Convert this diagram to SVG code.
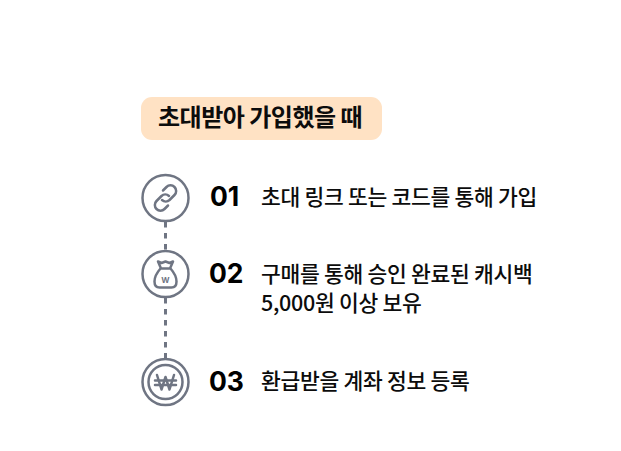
<svg xmlns="http://www.w3.org/2000/svg" width="621" height="451" viewBox="0 0 621 451">
<style>
text{font-family:"Noto Sans CJK KR","Noto Sans",sans-serif;fill:#0c0c0c}
.t{font-size:21.500px;font-weight:500;letter-spacing:-0.3px}
.n{font-family:Inter,"Noto Sans",sans-serif;font-size:26.500px;font-weight:700;fill:#000}
.c{fill:#fff;stroke:#6f7583;stroke-width:2.500}
.i{fill:none;stroke:#6f7583;stroke-width:2.500;stroke-linecap:round;stroke-linejoin:round}
</style>
<rect width="621" height="451" fill="#fff"/>
<g id="title"><rect x="141" y="97" width="241" height="43" rx="11" fill="#ffe2c4"/><text x="158" y="126" font-size="24" font-weight="700" letter-spacing="-0.5">초대받아 가입했을 때</text></g>
<g id="connectors"><path d="M165.500 222V250M165.500 298V358" fill="none" stroke="#6f7583" stroke-width="3" stroke-dasharray="5.500 5.500"/></g>
<g id="step1"><circle class="c" cx="165.500" cy="198" r="23"/>
<path class="i" d="M163 190.500l3.500-3.500a5.500 5.500 0 0 1 8 8l-5 5a5.500 5.500 0 0 1-7.500 0M168 205.500l-3.500 3.500a5.500 5.500 0 0 1-8-8l5-5a5.500 5.500 0 0 1 7.500 0"/>
<text class="n" x="210" y="206">01</text><text class="t" x="261" y="205">초대 링크 또는 코드를 통해 가입</text></g>
<g id="step2"><circle class="c" cx="165.500" cy="274" r="23"/>
<path class="i" d="M158 261.500l3.500 1.500 4-1.500 4 1.500 3.500-1.500-3 7h-9zM160.500 268.500c-3.500 4-6 9-6 13s2 6 5 6h12c3 0 5-2 5-6s-2.500-9-6-13" stroke-width="2"/>
<text x="165.500" y="283" font-size="8" font-weight="700" text-anchor="middle" style="fill:#6f7583;font-family:Inter,sans-serif">W</text>
<text class="n" x="209" y="283">02</text><text class="t" x="261" y="282">구매를 통해 승인 완료된 캐시백</text><text class="t" x="261" y="311">5,000원 이상 보유</text></g>
<g id="step3"><circle class="c" cx="165.500" cy="382" r="23"/><circle class="i" cx="165.500" cy="382" r="17"/>
<path class="i" d="M157 375l4.500 14.500 4-12.500 4 12.500 4.500-14.500" stroke-width="4"/><path class="i" d="M155 380.500h21M155 385h21" stroke-width="2.500"/>
<text class="n" x="209" y="391">03</text><text class="t" x="261" y="388.500">환급받을 계좌 정보 등록</text></g>
</svg>
